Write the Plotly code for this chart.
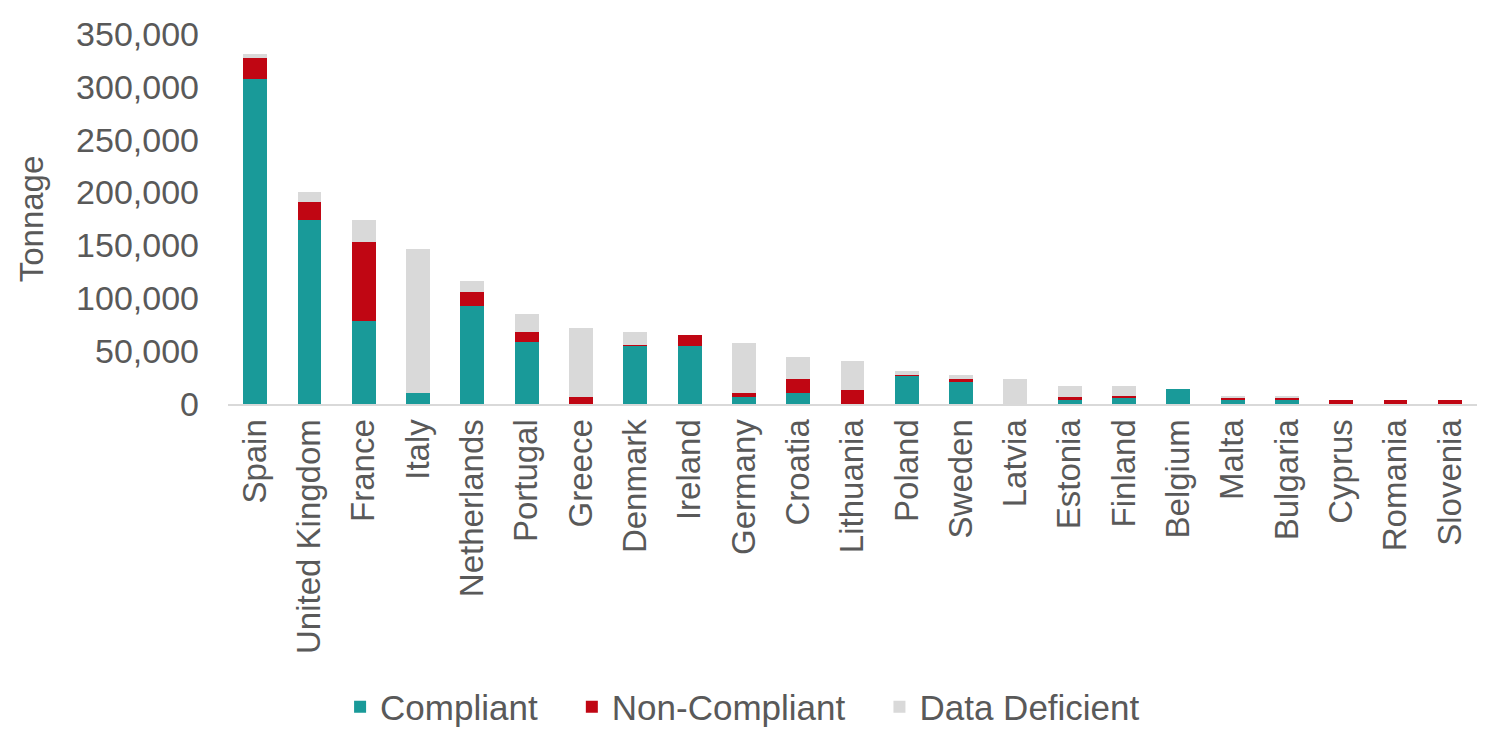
import plotly.graph_objects as go

countries = ["Spain", "United Kingdom", "France", "Italy", "Netherlands", "Portugal",
             "Greece", "Denmark", "Ireland", "Germany", "Croatia", "Lithuania",
             "Poland", "Sweden", "Latvia", "Estonia", "Finland", "Belgium", "Malta",
             "Bulgaria", "Cyprus", "Romania", "Slovenia"]
compliant = [307000, 174000, 78500, 10700, 92400, 58300, 0, 54900, 55000, 6900,
             10100, 0, 27100, 20500, 0, 3500, 6600, 13900, 3500, 3500, 0, 0, 0]
non_compliant = [20000, 17000, 75000, 0, 13200, 10000, 6900, 800, 10400, 3200,
                 13500, 13600, 500, 3000, 0, 3100, 500, 0, 3100, 3100, 3800, 3800, 3800]
data_deficient = [4000, 10000, 20500, 136000, 10800, 16700, 65000, 12400, 0, 48000,
                  21000, 27400, 3600, 3800, 23600, 10400, 10000, 0, 900, 900, 0, 0, 0]

FONT = "Liberation Sans, Arial, sans-serif"
TXT = "#595959"
NB = "\u00a0"

fig = go.Figure()
for i, (name, vals, col) in enumerate([("Compliant", compliant, "#199A99"),
                                       ("Non-Compliant", non_compliant, "#C00613"),
                                       ("Data Deficient", data_deficient, "#D9D9D9")]):
    label = name + (NB * 3 if i < 2 else "")
    fig.add_trace(go.Bar(x=countries, y=vals, name=label, marker_color=col,
                         marker_line_width=0))

fig.update_layout(
    barmode="stack",
    bargap=0.56,
    width=1506, height=740,
    margin=dict(l=220, r=37, t=26, b=344, autoexpand=False),
    plot_bgcolor="white", paper_bgcolor="white",
    font=dict(family=FONT, color=TXT, size=30),
    legend=dict(orientation="h", x=0.412, xanchor="center",
                yref="container", y=1 - 699 / 740, yanchor="middle",
                font=dict(size=35, color=TXT), traceorder="normal",
                tracegroupgap=0),
    showlegend=True,
)
fig.update_xaxes(showline=True, linecolor="#D9D9D9", linewidth=2, tickangle=-90,
                 tickfont=dict(size=33, color=TXT), ticks="", showgrid=False,
                 automargin=False)
fig.update_yaxes(range=[0, 350000], dtick=50000, tickformat=",", showgrid=False,
                 zeroline=False, tickfont=dict(size=34, color=TXT),
                 ticklabelstandoff=28, automargin=False,
                 title=dict(text="Tonnage", font=dict(size=33, color=TXT), standoff=22))

fig.write_html("out.html")
